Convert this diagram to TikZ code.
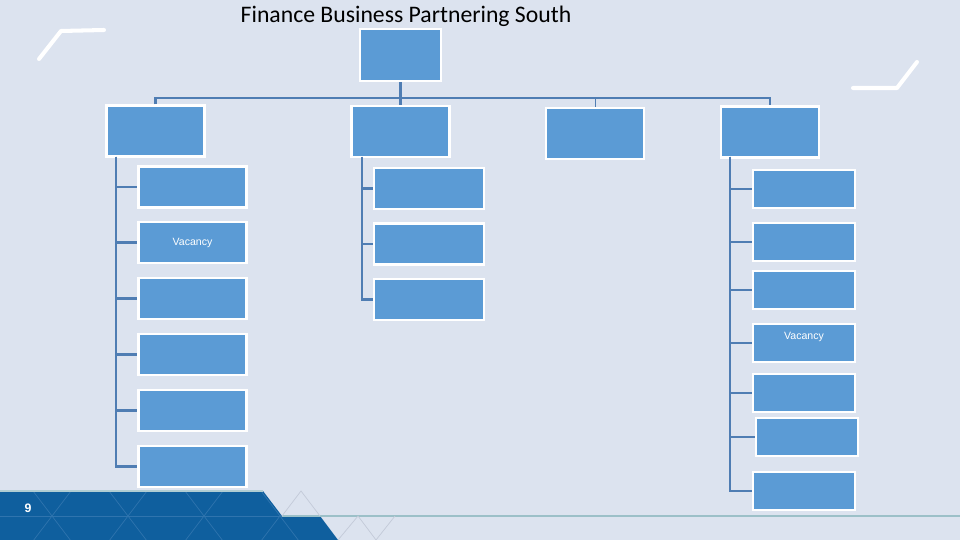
\documentclass[tikz,border=0pt]{standalone}
\usepackage{fontspec}
\setmainfont{Carlito}
\newfontfamily\arialf{Liberation Sans}
\usetikzlibrary{calc}
\definecolor{bgc}{HTML}{DCE3EF}
\definecolor{boxblue}{HTML}{5B9BD5}
\definecolor{linec}{HTML}{4F7DB3}
\definecolor{band}{HTML}{0F5F9E}
\definecolor{bandline}{HTML}{2F74AE}
\definecolor{teal}{HTML}{9CC0C8}
\definecolor{faint}{HTML}{C3CAD8}
\tikzset{
	box/.style={draw=white,line width=1.2pt,fill=boxblue,inner sep=0pt},
	head/.style={box,minimum width=1.96cm,minimum height=1.02cm},
	kid/.style={box,minimum width=2.16cm,minimum height=0.82cm},
	kidd/.style={box,minimum width=2.04cm,minimum height=0.77cm},
	conn/.style={draw=linec,line width=1.2pt},
	vac/.style={text=white,font=\arialf\fontsize{6}{7}\selectfont},
	corner/.style={white,line width=2.3pt,line cap=round,line join=round}
}
\begin{document}
\begin{tikzpicture}[x=0.02cm,y=-0.02cm]
			          %\draw[help lines] (0,0) grid (960,540);
			          \useasboundingbox (0,0) rectangle (960,540);
			          \fill[bgc] (0,0) rectangle (960,540);
			          % corner marks
			          \draw[corner] (39,59) -- (61,31) -- (104,30);
			          \draw[corner] (853,88) -- (897,88) -- (917,62);
			          % bottom band
			          \fill[band] (0,491) -- (263,491) -- (282,516) -- (320,516) -- (338,540) -- (0,540) -- cycle;
			          \begin{scope}
			          	\clip (0,491) -- (263,491) -- (282,516) -- (320,516) -- (338,540) -- (0,540) -- cycle;
			          	\foreach \x in {-24,52,...,356}{
			          		\draw[bandline,line width=0.4pt] ($(\x,516)+(-38,-50)$) -- ($(\x,516)+(38,50)$);
			          		\draw[bandline,line width=0.4pt] ($(\x,516)+(38,-50)$) -- ($(\x,516)+(-38,50)$);
			          	}
			          	\draw[bandline,line width=0.4pt] (0,516) -- (320,516);
			          \end{scope}
			          \draw[teal!80!white,line width=0.8pt] (0,491) -- (263,491);
			          \draw[teal,line width=1.2pt] (282,516) -- (960,516);
			          \draw[faint,line width=0.4pt] (282,516) -- (301,491) -- (320,516);
			          \draw[faint,line width=0.4pt] (338,540) -- (358,516) -- (376,540) -- (395,516);
			          \node[text=white,font=\arialf\bfseries\fontsize{7}{8}\selectfont] (pg) at (28,508) {9};
			          % title
			          \node[font=\fontsize{13.5}{15}\selectfont] (ttl) at (406,16) {Finance Business Partnering South};
			          % chart
			          \node[box,minimum width=1.62cm,minimum height=1.04cm] (top) at (400.5,55) {};
			          \node[head] (a) at (155.5,131) {};
			          \node[head] (b) at (400.5,131.5) {};
			          \node[head] (c) at (595,133.5) {};
			          \node[head] (d) at (770,132) {};
			          \coordinate (bar) at (400.5,98);
			          \draw[conn] (top.south) -- (b.north);
			          \draw[conn] (a.north) |- (bar) -| (d.north);
			          \draw[conn,line width=0.5pt] (c.north) -- (c.north |- bar);
			          % left column
			          \foreach \i/\y in {1/187,2/242.5,3/298.5,4/354.5,5/410.5,6/466.5}
			          	\node[kid] (a\i) at (192.5,\y) {};
			          \node[vac] at (a2) {Vacancy};
			          \coordinate (sa) at (116,157);
			          \foreach \i in {1,...,6}
			          	\draw[conn] (sa) |- (a\i.west);
			          % middle column
			          \foreach \i/\y in {1/188.5,2/244,3/299.5}
			          	\node[box,minimum width=2.2cm,minimum height=0.82cm] (b\i) at (429,\y) {};
			          \coordinate (sb) at (362,157);
			          \foreach \i in {1,...,3}
			          	\draw[conn] (sb) |- (b\i.west);
			          % right column
			          \foreach \i/\x/\y in {1/804/189,2/804/242,3/804/290,4/804/343,5/804/393,6/807/437,7/804/491}
			          	\node[kidd] (d\i) at (\x,\y) {};
			          \node[vac,anchor=north] at ($(d4.north)+(0,3)$) {Vacancy};
			          \coordinate (sd) at (730,157);
			          \foreach \i in {1,...,7}
			          	\draw[conn] (sd) |- (d\i.west);
\end{tikzpicture}
\end{document}
